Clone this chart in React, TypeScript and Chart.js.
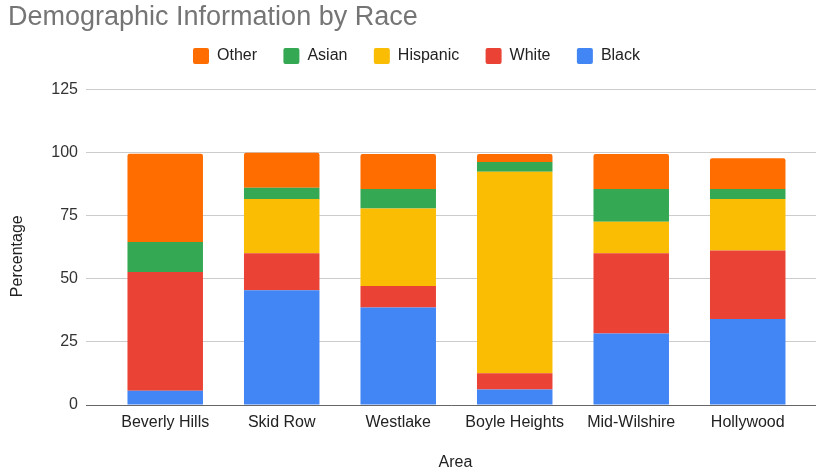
import React, { useEffect, useRef } from "react";
import { Chart, registerables } from "chart.js";

Chart.register(...registerables);

const CATEGORIES = ["Beverly Hills", "Skid Row", "Westlake", "Boyle Heights", "Mid-Wilshire", "Hollywood"];
const BLACK = [5.6, 45.5, 38.7, 6.1, 28.3, 34.1];
const WHITE = [47.1, 14.7, 8.5, 6.5, 31.9, 27.2];
const HISPANIC = [0, 21.5, 30.7, 79.9, 12.4, 20.4];
const ASIAN = [11.9, 4.4, 7.7, 3.8, 13.0, 3.9];
const OTHER = [35.0, 13.9, 13.9, 3.2, 13.9, 12.2];
const Y_TICKS = [0, 25, 50, 75, 100, 125];

const FONT = "'Liberation Sans', Arial, Helvetica, sans-serif";

function pts(values: number[]) {
  return values.map((v, i) => ({ x: i, y: v }));
}

export default function App() {
  const ref = useRef<HTMLCanvasElement | null>(null);

  useEffect(() => {
    if (!ref.current) return;
    const series = [
      { label: "Black", data: BLACK, color: "#4285F4" },
      { label: "White", data: WHITE, color: "#EA4335" },
      { label: "Hispanic", data: HISPANIC, color: "#FBBC04" },
      { label: "Asian", data: ASIAN, color: "#34A853" },
      { label: "Other", data: OTHER, color: "#FF6D01" },
    ];
    const chart = new Chart(ref.current, {
      type: "bar",
      data: {
        datasets: series.map((s, idx) => ({
          label: s.label,
          data: pts(s.data),
          backgroundColor: s.color,
          borderWidth: 0,
          xAxisID: "x",
          yAxisID: "y",
          categoryPercentage: 1,
          barPercentage: 0.648,
          borderRadius: idx === series.length - 1 ? { topLeft: 2, topRight: 2, bottomLeft: 0, bottomRight: 0 } : 0,
          borderSkipped: false,
        })),
      },
      options: {
        responsive: false,
        animation: false,
        layout: { padding: { left: 8, right: -9, top: 0, bottom: 0 } },
        plugins: {
          title: {
            display: true,
            text: "Demographic Information by Race",
            align: "start",
            color: "#757575",
            font: { family: FONT, size: 27, weight: "normal", lineHeight: 1.2 },
            padding: { top: 1.5, bottom: -12.3 },
          },
          legend: {
            display: true,
            position: "top",
            reverse: true,
            labels: {
              color: "#222222",
              font: { family: FONT, size: 16 },
              boxWidth: 16,
              boxHeight: 16,
              padding: 26.4,
              useBorderRadius: true,
              borderRadius: 2,
            },
          },
          tooltip: { enabled: false },
        },
        scales: {
          x: {
            type: "linear",
            position: "bottom",
            stacked: true,
            offset: false,
            min: -0.68,
            max: 5.586,
            grid: { display: false, drawTicks: false, offset: false },
            border: { display: true, color: "#666666", width: 1 },
            ticks: {
              stepSize: 1,
              includeBounds: false,
              autoSkip: false,
              maxRotation: 0,
              padding: 8,
              color: "#222222",
              font: { family: FONT, size: 16 },
              callback: (v: any) => (Number.isInteger(v) && CATEGORIES[v] !== undefined ? CATEGORIES[v] : ""),
            },
            title: {
              display: true,
              text: "  Area",
              color: "#222222",
              font: { family: FONT, size: 16 },
              padding: { top: 0, bottom: 1 },
            },
            afterFit: (s: any) => {
              s.height = 68;
            },
          },
          spacer: {
            type: "linear",
            axis: "x",
            position: "top",
            display: true,
            offset: false,
            min: 0,
            max: 1,
            grid: { display: false, drawTicks: false },
            border: { display: false },
            ticks: { display: false },
            afterFit: (s: any) => {
              s.height = 15.7;
            },
          },
          y: {
            type: "linear",
            stacked: true,
            min: Y_TICKS[0],
            max: Y_TICKS[Y_TICKS.length - 1],
            grid: { color: "#cccccc", drawTicks: false },
            border: { display: false },
            afterBuildTicks: (s: any) => {
              s.ticks = Y_TICKS.map((v) => ({ value: v }));
            },
            ticks: {
              padding: 8,
              color: "#333333",
              font: { family: FONT, size: 16 },
            },
            title: {
              display: true,
              text: "Percentage    ",
              color: "#222222",
              font: { family: FONT, size: 16 },
              padding: { top: 0, bottom: 0 },
            },
            afterFit: (s: any) => {
              s.width = 78;
            },
          },
        },
      } as any,
    });
    return () => chart.destroy();
  }, []);

  return (
    <div style={{ position: "fixed", left: 0, top: 0, width: 816, height: 473, background: "#ffffff" }}>
      <canvas ref={ref} width={816} height={473} style={{ display: "block" }} />
    </div>
  );
}
